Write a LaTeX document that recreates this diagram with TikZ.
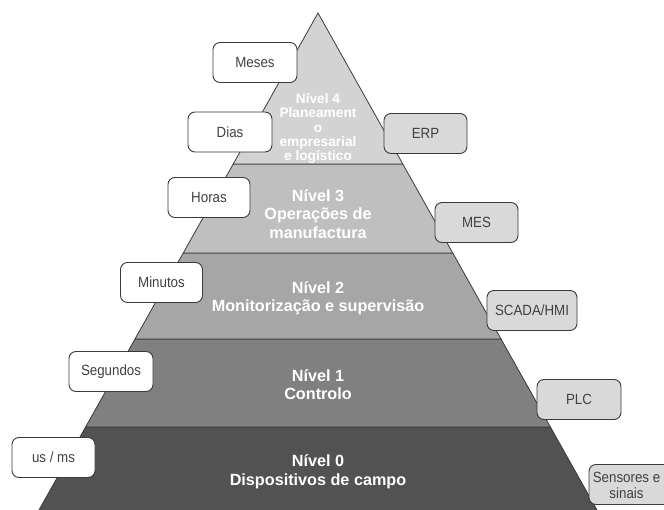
\documentclass[tikz,border=0pt]{standalone}
\usepackage{fontspec}
\setmainfont{Liberation Sans}
\newfontfamily\tagfont[FakeStretch=0.9]{Liberation Sans}
\usetikzlibrary{calc}

\definecolor{edge}{HTML}{3A3A3A}
\definecolor{lvfour}{HTML}{D3D3D3}
\definecolor{lvthree}{HTML}{BFBFBF}
\definecolor{lvtwo}{HTML}{A6A6A6}
\definecolor{lvone}{HTML}{808080}
\definecolor{lvzero}{HTML}{525252}
\definecolor{boxgray}{HTML}{D9D9D9}
\definecolor{boxtext}{HTML}{404040}

\tikzset{
  layer/.style={draw=edge, line width=0.8pt, line join=miter},
  leveltext/.style={text=white, align=center, inner sep=0pt,
    font=\fontsize{16.2}{18.5}\selectfont\bfseries},
  toptext/.style={text=white, align=center, inner sep=0pt,
    font=\fontsize{13.7}{14.4}\selectfont\bfseries},
  tagbox/.style={draw=edge, line width=0.9pt, rounded corners=7pt,
    minimum width=84pt, minimum height=40pt, inner sep=0pt, align=center,
    text=boxtext, font=\tagfont\fontsize{14.8}{16}\selectfont},
  timebox/.style={tagbox, fill=white},
  sysbox/.style={tagbox, fill=boxgray}
}

\begin{document}
\begin{tikzpicture}[x=1pt, y=-1pt]
\useasboundingbox (0,0) rectangle (664,510);
\clip (0,0) rectangle (664,510);

% pyramid outline: apex and base corners
\coordinate (apex) at (318,13);
\coordinate (bl) at (39,510);
\coordinate (br) at (597,510);

% layer boundaries along the two slanted sides
\foreach \n/\t in {a/0.3038, b/0.4829, c/0.6559, d/0.8330}{
  \coordinate (l\n) at ($(apex)!\t!(bl)$);
  \coordinate (r\n) at ($(apex)!\t!(br)$);
}

\draw[layer, fill=lvzero]  (ld) -- (rd) -- ($(apex)!1.02!(br)$) -- ($(apex)!1.02!(bl)$) -- cycle;
\draw[layer, fill=lvone]   (lc) -- (rc) -- (rd) -- (ld) -- cycle;
\draw[layer, fill=lvtwo]   (lb) -- (rb) -- (rc) -- (lc) -- cycle;
\draw[layer, fill=lvthree] (la) -- (ra) -- (rb) -- (lb) -- cycle;
\draw[layer, fill=lvfour]  (apex) -- (ra) -- (la) -- cycle;

% level captions
\node[toptext]   (t4) at (318,128.5) {Nível 4\\Planeament\\o\\empresarial\\e logístico};
\node[leveltext] (t3) at (318,214) {Nível 3\\Operações de\\manufactura};
\node[leveltext] (t2) at (318,298) {Nível 2\\Monitorização e supervisão};
\node[leveltext] (t1) at (318,384.5) {Nível 1\\Controlo};
\node[leveltext] (t0) at (318,471.5) {Nível 0\\Dispositivos de campo};

% time scale tags (left)
\node[timebox] (meses)    at (255,62.5)  {Meses};
\node[timebox] (dias)     at (230,132)   {Dias};
\node[timebox, minimum width=82pt] (horas) at (209,197.5) {Horas};
\node[timebox, minimum width=82pt] (minutos) at (161.5,282.5) {Minutos};
\node[timebox] (segundos) at (111,371.5) {Segundos};
\node[timebox, minimum width=83pt] (usms) at (53.5,457.5) {us / ms};

% system tags (right)
\node[sysbox, minimum width=83pt] (erp) at (425.5,133.5) {ERP};
\node[sysbox, minimum width=83pt] (mes) at (476.5,222.5) {MES};
\node[sysbox, minimum width=90pt] (scada) at (532,310.5) {SCADA/HMI};
\node[sysbox] (plc) at (579,399.5) {PLC};
\node[sysbox, minimum width=82pt] (sens) at (630,484.5) {};
\node[align=center, text=boxtext, inner sep=0pt,
      font=\tagfont\fontsize{14.8}{16}\selectfont] (senst) at (626.5,485) {Sensores e\\sinais};
\end{tikzpicture}
\end{document}
